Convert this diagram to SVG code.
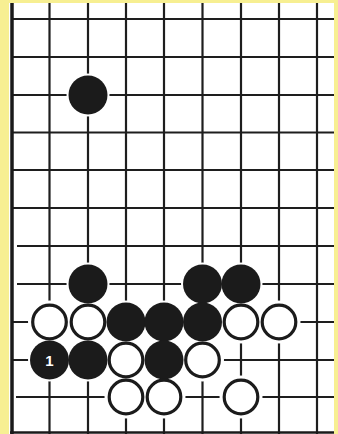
<svg xmlns="http://www.w3.org/2000/svg" width="338" height="434" viewBox="0 0 338 434">
  <style>
    .grid { stroke: #1e1e1e; stroke-width: 2.2; fill: none; }
    .edge { stroke: #1a1a1a; stroke-width: 3.5; fill: none; }
    .halo { fill: #ffffff; }
    .black { fill: #1b1b1b; }
    .white { fill: #ffffff; stroke: #1b1b1b; stroke-width: 3.2; }
    .lbl { font-family: "Liberation Sans", Arial, sans-serif; font-size: 15px; font-weight: bold; fill: #ffffff; text-anchor: middle; }
  </style>
  <rect x="0" y="0" width="338" height="434" fill="#f7ef92"/>
  <rect x="9" y="3" width="325" height="431" fill="#ffffff"/>
  <g id="grid">
    <g class="grid">
      <line x1="49.5" y1="3" x2="49.5" y2="434"/>
      <line x1="88" y1="3" x2="88" y2="434"/>
      <line x1="126" y1="3" x2="126" y2="434"/>
      <line x1="164" y1="3" x2="164" y2="434"/>
      <line x1="202.5" y1="3" x2="202.5" y2="434"/>
      <line x1="241" y1="3" x2="241" y2="434"/>
      <line x1="279" y1="3" x2="279" y2="434"/>
      <line x1="317" y1="3" x2="317" y2="434"/>
      <line x1="12" y1="19" x2="334" y2="19"/>
      <line x1="12" y1="57" x2="334" y2="57"/>
      <line x1="12" y1="95" x2="334" y2="95"/>
      <line x1="12" y1="132.5" x2="334" y2="132.5"/>
      <line x1="12" y1="170" x2="334" y2="170"/>
      <line x1="12" y1="208" x2="334" y2="208"/>
      <line x1="17" y1="246" x2="334" y2="246"/>
      <line x1="17" y1="284" x2="334" y2="284"/>
      <line x1="12" y1="322" x2="334" y2="322"/>
      <line x1="12" y1="360" x2="334" y2="360"/>
      <line x1="16" y1="397" x2="334" y2="397"/>
    </g>
    <line class="edge" x1="12" y1="3" x2="12" y2="434"/>
    <line class="edge" x1="10" y1="432.5" x2="334" y2="432.5" style="stroke-width:2.5"/>
  </g>
  <g id="halos" class="halo">
    <circle cx="88" cy="95" r="21.5"/>
    <circle cx="88" cy="284" r="21.5"/>
    <circle cx="202.5" cy="284" r="21.5"/>
    <circle cx="241" cy="284" r="21.5"/>
    <circle cx="49.5" cy="322" r="21.5"/>
    <circle cx="88" cy="322" r="21.5"/>
    <circle cx="126" cy="322" r="21.5"/>
    <circle cx="164" cy="322" r="21.5"/>
    <circle cx="202.5" cy="322" r="21.5"/>
    <circle cx="241" cy="322" r="21.5"/>
    <circle cx="279" cy="322" r="21.5"/>
    <circle cx="49.5" cy="360" r="21.5"/>
    <circle cx="88" cy="360" r="21.5"/>
    <circle cx="126" cy="360" r="21.5"/>
    <circle cx="164" cy="360" r="21.5"/>
    <circle cx="202.5" cy="360" r="21.5"/>
    <circle cx="126" cy="397" r="21.5"/>
    <circle cx="164" cy="397" r="21.5"/>
    <circle cx="241" cy="397" r="21.5"/>
  </g>
  <g id="b-c2-r2"><circle class="black" cx="88" cy="95" r="19.5"/></g>
  <g id="b-c2-r7"><circle class="black" cx="88" cy="284" r="19.5"/></g>
  <g id="b-c5-r7"><circle class="black" cx="202.5" cy="284" r="19.5"/></g>
  <g id="b-c6-r7"><circle class="black" cx="241" cy="284" r="19.5"/></g>
  <g id="w-c1-r8"><circle class="white" cx="49.5" cy="322" r="16.8"/></g>
  <g id="w-c2-r8"><circle class="white" cx="88" cy="322" r="16.8"/></g>
  <g id="b-c3-r8"><circle class="black" cx="126" cy="322" r="19.5"/></g>
  <g id="b-c4-r8"><circle class="black" cx="164" cy="322" r="19.5"/></g>
  <g id="b-c5-r8"><circle class="black" cx="202.5" cy="322" r="19.5"/></g>
  <g id="w-c6-r8"><circle class="white" cx="241" cy="322" r="16.8"/></g>
  <g id="w-c7-r8"><circle class="white" cx="279" cy="322" r="16.8"/></g>
  <g id="b-c1-r9"><circle class="black" cx="49.5" cy="360" r="19.5"/><text class="lbl" x="49.5" y="365.5">1</text></g>
  <g id="b-c2-r9"><circle class="black" cx="88" cy="360" r="19.5"/></g>
  <g id="w-c3-r9"><circle class="white" cx="126" cy="360" r="16.8"/></g>
  <g id="b-c4-r9"><circle class="black" cx="164" cy="360" r="19.5"/></g>
  <g id="w-c5-r9"><circle class="white" cx="202.5" cy="360" r="16.8"/></g>
  <g id="w-c3-r10"><circle class="white" cx="126" cy="397" r="16.8"/></g>
  <g id="w-c4-r10"><circle class="white" cx="164" cy="397" r="16.8"/></g>
  <g id="w-c6-r10"><circle class="white" cx="241" cy="397" r="16.8"/></g>
</svg>
